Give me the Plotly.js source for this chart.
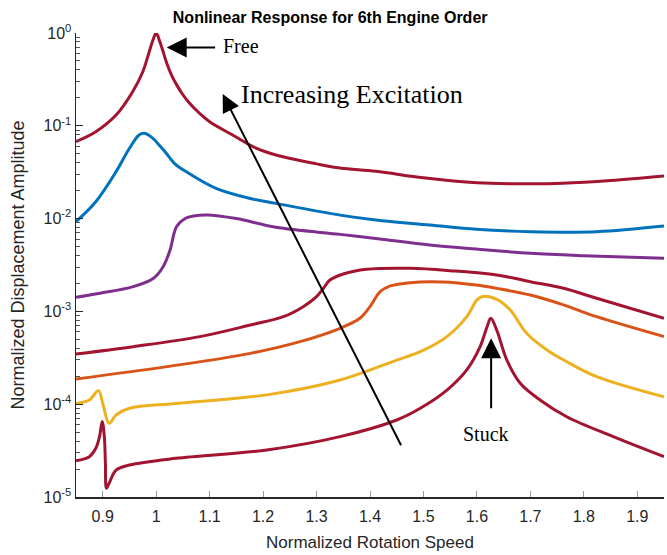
<!DOCTYPE html>
<html>
<head>
<meta charset="utf-8">
<script src="https://cdn.plot.ly/plotly-3.0.1.min.js"></script>
<style>html,body{margin:0;padding:0;background:#fff;}#chart{width:667px;height:555px;}</style>
</head>
<body>
<div id="chart"></div>
<script>
// Normalized rotation speed / displacement amplitude
const freeX = [0.85, 0.887, 0.925, 0.956, 0.975, 0.987, 0.994, 1.0, 1.006, 1.011, 1.021, 1.030, 1.040, 1.05, 1.062, 1.081, 1.100, 1.143, 1.187, 1.224, 1.30, 1.344, 1.411, 1.50, 1.60, 1.70, 1.76, 1.85, 1.95];
const freeY = [0.0675, 0.0863, 0.1306, 0.2328, 0.3828, 0.628, 0.84, 1.0, 0.832, 0.684, 0.452, 0.339, 0.266, 0.216, 0.176, 0.1365, 0.1107, 0.0796, 0.0573, 0.0484, 0.0389, 0.0351, 0.0324, 0.0275, 0.0243, 0.0237, 0.0240, 0.0257, 0.0288];

const blueX = [0.85, 0.887, 0.925, 0.95, 0.968, 0.978, 0.994, 1.006, 1.018, 1.035, 1.056, 1.112, 1.174, 1.224, 1.344, 1.411, 1.512, 1.599, 1.70, 1.824, 1.95];
const blueY = [0.00927, 0.0152, 0.0321, 0.0573, 0.0796, 0.0830, 0.0733, 0.0615, 0.0513, 0.0389, 0.0321, 0.0212, 0.0166, 0.0146, 0.0109, 0.00966, 0.00853, 0.00766, 0.00723, 0.00723, 0.00832];

const purpleX = [0.85, 0.895, 0.957, 0.995, 1.013, 1.026, 1.038, 1.055, 1.07, 1.095, 1.15, 1.224, 1.344, 1.411, 1.512, 1.599, 1.70, 1.80, 1.95];
const purpleY = [0.00142, 0.00157, 0.00185, 0.00228, 0.00303, 0.00459, 0.00818, 0.0101, 0.01067, 0.01094, 0.0100, 0.00805, 0.00676, 0.00612, 0.0052, 0.0047, 0.00423, 0.00398, 0.00373];

const red4X = [0.85, 0.957, 1.082, 1.176, 1.238, 1.275, 1.30, 1.313, 1.325, 1.35, 1.394, 1.475, 1.55, 1.637, 1.70, 1.762, 1.824, 1.95];
const red4Y = [0.000348, 0.000417, 0.000535, 0.000713, 0.000877, 0.001125, 0.001442, 0.001774, 0.002178, 0.00253, 0.00284, 0.00291, 0.00275, 0.00247, 0.00209, 0.001774, 0.001384, 0.000843];

const orangeX = [0.85, 1.02, 1.176, 1.269, 1.344, 1.381, 1.40, 1.419, 1.438, 1.475, 1.536, 1.599, 1.637, 1.70, 1.762, 1.824, 1.95];
const orangeY = [0.000187, 0.000254, 0.000353, 0.000472, 0.000658, 0.000843, 0.001125, 0.00163, 0.00188, 0.00204, 0.00207, 0.00192, 0.00177, 0.00150, 0.001175, 0.000877, 0.000535];

const yellowX = [0.85, 0.875, 0.892, 0.9, 0.912, 0.925, 0.95, 1.037, 1.207, 1.344, 1.45, 1.494, 1.544, 1.581, 1.60, 1.609, 1.637, 1.662, 1.693, 1.731, 1.768, 1.824, 1.95];
const yellowY = [0.000102, 0.000111, 0.000140, 0.000102, 0.0000622, 0.0000766, 0.0000904, 0.000102, 0.000126, 0.000182, 0.000299, 0.000368, 0.000535, 0.000877, 0.00133, 0.00144, 0.00135, 0.00104, 0.000581, 0.000384, 0.000287, 0.000198, 0.000120];

const stuckX = [0.85, 0.875, 0.887, 0.894, 0.899, 0.903, 0.905, 0.907, 0.912, 0.925, 0.95, 1.037, 1.207, 1.344, 1.45, 1.494, 1.544, 1.581, 1.606, 1.619, 1.626, 1.637, 1.656, 1.681, 1.718, 1.768, 1.855, 1.95];
const stuckY = [0.0000246, 0.0000272, 0.0000335, 0.0000447, 0.0000649, 0.0000447, 0.0000231, 0.0000124, 0.0000141, 0.0000195, 0.0000221, 0.0000261, 0.0000321, 0.0000447, 0.0000676, 0.0000904, 0.000142, 0.000234, 0.000417, 0.000684, 0.000843, 0.000631, 0.000299, 0.000168, 0.000111, 0.0000733, 0.0000447, 0.0000272];

const xTicks = [0.9, 1.0, 1.1, 1.2, 1.3, 1.4, 1.5, 1.6, 1.7, 1.8, 1.9];
const xTickText = ['0.9', '1', '1.1', '1.2', '1.3', '1.4', '1.5', '1.6', '1.7', '1.8', '1.9'];
const yTicks = [1e-5, 1e-4, 1e-3, 1e-2, 1e-1, 1];
const yTickText = ['10<sup>-5</sup>', '10<sup>-4</sup>', '10<sup>-3</sup>', '10<sup>-2</sup>', '10<sup>-1</sup>', '10<sup>0</sup>'];
const minorMultipliers = [2, 3, 4, 5, 6, 7, 8, 9];
const yMinorTicks = [];
yTicks.slice(0, -1).forEach(function (d) { minorMultipliers.forEach(function (m) { yMinorTicks.push(d * m); }); });

const colRed = '#A2142F', colBlue = '#0072BD', colPurple = '#7E2F8E', colOrange = '#D95319', colYellow = '#EDB120';

function tr(x, y, c) {
  return {x: x, y: y, type: 'scatter', mode: 'lines', line: {color: c, width: 3, shape: 'spline', smoothing: 1.0}, hoverinfo: 'skip'};
}

const data = [
  tr(freeX, freeY, colRed),
  tr(blueX, blueY, colBlue),
  tr(purpleX, purpleY, colPurple),
  tr(red4X, red4Y, colRed),
  tr(orangeX, orangeY, colOrange),
  tr(yellowX, yellowY, colYellow),
  tr(stuckX, stuckY, colRed)
];

const sans = 'Liberation Sans, Arial, sans-serif';
const serif = 'Liberation Serif, Times New Roman, serif';
const layout = {
  width: 667, height: 555,
  margin: {l: 76, r: 3, t: 33, b: 58},
  paper_bgcolor: '#fff', plot_bgcolor: '#fff',
  showlegend: false,
  title: {text: '<b>Nonlinear Response for 6th Engine Order</b>', x: 0.495, xanchor: 'center', y: 0.968, yanchor: 'middle',
          font: {family: sans, size: 16, color: '#000'}},
  xaxis: {
    range: [0.85, 1.95], tickvals: xTicks, ticktext: xTickText,
    ticks: 'inside', ticklen: 6, tickcolor: '#999', tickwidth: 1, ticklabelstandoff: 4,
    showline: true, linecolor: '#262626', linewidth: 1.5, mirror: false,
    showgrid: false, zeroline: false,
    tickfont: {family: sans, size: 16, color: '#262626'},
    title: {text: 'Normalized Rotation Speed', font: {family: sans, size: 17, color: '#262626'}, standoff: 12}
  },
  yaxis: {
    type: 'log', range: [-5, 0], tickvals: yTicks, ticktext: yTickText,
    ticks: 'inside', ticklen: 7, tickcolor: '#262626', tickwidth: 1,
    minor: {tickmode: 'array', tickvals: yMinorTicks, ticks: 'inside', ticklen: 4, tickcolor: '#555', tickwidth: 1, showgrid: false},
    showline: true, linecolor: '#262626', linewidth: 1.5, mirror: false,
    showgrid: false, zeroline: false,
    tickfont: {family: sans, size: 16, color: '#262626'},
    title: {text: 'Normalized Displacement Amplitude', font: {family: sans, size: 18, color: '#262626'}, standoff: 14}
  },
  annotations: [
    {x: 1.0197, y: -0.155, xref: 'x', yref: 'y', ax: 1.113, ay: -0.155, axref: 'x', ayref: 'y',
     text: '', showarrow: true, arrowhead: 2, arrowsize: 2, arrowwidth: 2, arrowcolor: '#000'},
    {x: 1.121, y: -0.14, xref: 'x', yref: 'y', text: 'Free', showarrow: false, xanchor: 'left', yanchor: 'middle',
     font: {family: serif, size: 20, color: '#000'}},
    {x: 1.1245, y: -0.657, xref: 'x', yref: 'y', ax: 1.4595, ay: -4.458, axref: 'x', ayref: 'y',
     text: '', showarrow: true, arrowhead: 2, arrowsize: 1.8, arrowwidth: 2, arrowcolor: '#000'},
    {x: 1.155, y: -0.668, xref: 'x', yref: 'y', text: 'Increasing Excitation', showarrow: false, xanchor: 'left', yanchor: 'middle',
     font: {family: serif, size: 26, color: '#000'}},
    {x: 1.6266, y: -3.29, xref: 'x', yref: 'y', ax: 1.6266, ay: -4.06, axref: 'x', ayref: 'y',
     text: '', showarrow: true, arrowhead: 2, arrowsize: 2, arrowwidth: 2, arrowcolor: '#000'},
    {x: 1.6175, y: -4.32, xref: 'x', yref: 'y', text: 'Stuck', showarrow: false, xanchor: 'center', yanchor: 'middle',
     font: {family: serif, size: 20, color: '#000'}}
  ]
};

Plotly.newPlot('chart', data, layout, {displayModeBar: false, staticPlot: true});
</script>
</body>
</html>
